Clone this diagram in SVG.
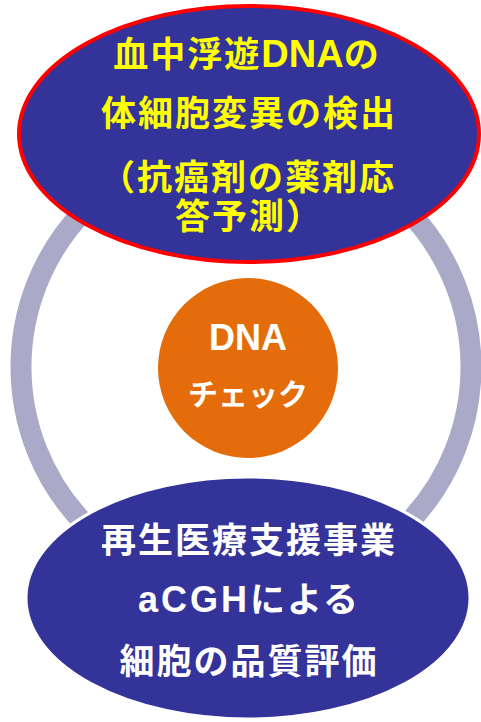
<svg xmlns="http://www.w3.org/2000/svg" width="481" height="722" viewBox="0 0 481 722">
<style>
.t{font-family:"Liberation Sans","Noto Sans CJK JP",sans-serif;font-weight:bold;text-anchor:middle}
.y{fill:#FFFF00;font-size:35px;letter-spacing:2px}
.w{fill:#FFFFFF;font-size:35px;letter-spacing:2px}
.c{fill:#FFFFFF}
.l{letter-spacing:0px;font-size:38px}
.l2{letter-spacing:3px;font-size:36px}
</style>
<rect width="481" height="722" fill="#FFFFFF"/>
<g id="connectors">
<circle cx="246" cy="367" r="225" fill="none" stroke="#AAAAC8" stroke-width="21"/>
</g>
<g id="center">
<circle cx="248" cy="368" r="90" fill="#E46C0A"/>
<text class="t c" x="248" y="350" font-size="36">DNA</text>
<text class="t c" x="248" y="405" font-size="30">チェック</text>
</g>
<g id="top">
<ellipse cx="249" cy="134" rx="230" ry="128" fill="#333399" stroke="#FF0000" stroke-width="4"/>
<text class="t y" x="247" y="67">血中浮遊<tspan class="l">DNA</tspan>の</text>
<text class="t y" x="249" y="126">体細胞変異の検出</text>
<text class="t y" x="248" y="190">（抗癌剤の薬剤応</text>
<text class="t y" x="249" y="229">答予測）</text>
</g>
<g id="bottom">
<ellipse cx="248" cy="598" rx="222" ry="121" fill="#333399" stroke="#FFFFFF" stroke-width="3"/>
<text class="t w" x="249" y="553">再生医療支援事業</text>
<text class="t w" x="249" y="612"><tspan class="l2">aCGH</tspan>による</text>
<text class="t w" x="249" y="674">細胞の品質評価</text>
</g>
</svg>
